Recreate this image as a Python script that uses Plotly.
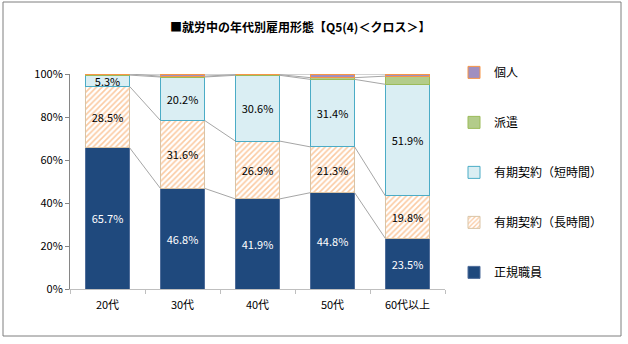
import plotly.graph_objects as go

categories = ["20代", "30代", "40代", "50代", "60代以上"]
seiki = [65.7, 46.8, 41.9, 44.8, 23.5]
yuki_long = [28.5, 31.6, 26.9, 21.3, 19.8]
yuki_short = [5.3, 20.2, 30.6, 31.4, 51.9]
haken = [0.5, 0.4, 0.3, 0.8, 3.8]
kojin = [0.0, 1.0, 0.3, 1.7, 1.0]
series_names = ["正規職員", "有期契約（長時間）", "有期契約（短時間）", "派遣", "個人"]
yticks = [0, 20, 40, 60, 80, 100]

FONT = "Noto Sans CJK JP, sans-serif"
xs = list(range(len(categories)))
BW = 0.59

fig = go.Figure()

series = [seiki, yuki_long, yuki_short, haken, kojin]
styles = [
    dict(color="#1F497D", line=dict(color="#4F6D9A", width=1)),
    dict(color="white", line=dict(color="#D9C4A6", width=1),
         pattern=dict(shape="/", fgcolor="#F79646", bgcolor="white", size=4, solidity=0.4)),
    dict(color="#DAEEF3", line=dict(color="#4BACC6", width=1)),
    dict(color="#B3CC8A", line=dict(color="#9BBB59", width=1)),
    dict(color="#A08FC0", line=dict(color="#F79646", width=1)),
]
textcolors = ["white", "black", "black", None, None]

n = len(series)
for k, (vals, name, st, tc) in enumerate(zip(series, series_names, styles, textcolors)):
    kw = {}
    if tc:
        kw = dict(text=[f"{v:.1f}%" for v in vals], textposition="inside",
                  insidetextanchor="middle", constraintext="none",
                  textfont=dict(color=tc, size=11, family=FONT))
    fig.add_trace(go.Bar(x=xs, y=vals, name=name, marker=st, width=BW,
                         legendgroup=str(k), legendrank=n - k, hoverinfo="skip", **kw))

# series lines connecting segment tops
lx, ly = [], []
cum = [0] * len(categories)
for vals in series:
    cum = [c + v for c, v in zip(cum, vals)]
    for i in range(len(categories) - 1):
        lx += [xs[i] + BW / 2, xs[i + 1] - BW / 2, None]
        ly += [cum[i], cum[i + 1], None]
fig.add_trace(go.Scatter(x=lx, y=ly, mode="lines", line=dict(color="#A6A6A6", width=1),
                         showlegend=False, hoverinfo="skip"))

fig.update_layout(
    barmode="stack",
    width=628, height=344,
    margin=dict(l=70, r=183, t=74, b=55),
    paper_bgcolor="white", plot_bgcolor="white",
    font=dict(family=FONT, size=11, color="black"),
    title=dict(text="<b>■就労中の年代別雇用形態【Q5(4)＜クロス＞】</b>",
               x=0.478, xanchor="center", y=0.92, yanchor="middle",
               font=dict(size=12, family=FONT)),
    legend=dict(x=1.024, y=1.075, xanchor="left", yanchor="top",
                traceorder="grouped", tracegroupgap=31, maxheight=330,
                font=dict(size=12, family=FONT), itemwidth=30,
                bgcolor="rgba(0,0,0,0)"),
    showlegend=True,
    bargap=0.41,
)
fig.update_xaxes(range=[-0.5, 4.5], tickvals=xs, ticktext=categories, ticks="",
                 showline=True, linecolor="#BFBFBF", linewidth=1, ticklabelstandoff=6,
                 minor=dict(tickvals=[x - 0.5 for x in xs] + [4.5], ticks="outside",
                            ticklen=4, tickcolor="#BFBFBF"),
                 tickfont=dict(size=11), showgrid=False, zeroline=False, fixedrange=True)
fig.update_yaxes(range=[0, 100], tickvals=yticks, ticktext=[f"{t}%" for t in yticks],
                 ticks="outside", ticklen=4, tickcolor="#868686",
                 showline=True, linecolor="#868686", linewidth=1,
                 showgrid=False, zeroline=False, tickfont=dict(size=11), fixedrange=True)

# outer frame
fig.add_shape(type="rect", xref="paper", yref="paper",
              x0=(3 - 70) / 375, x1=(621 - 70) / 375,
              y0=(289 - 336) / 215, y1=(289 - 2) / 215,
              line=dict(color="#7F7F7F", width=1), fillcolor="rgba(0,0,0,0)", layer="below")

fig.write_html("out.html")
